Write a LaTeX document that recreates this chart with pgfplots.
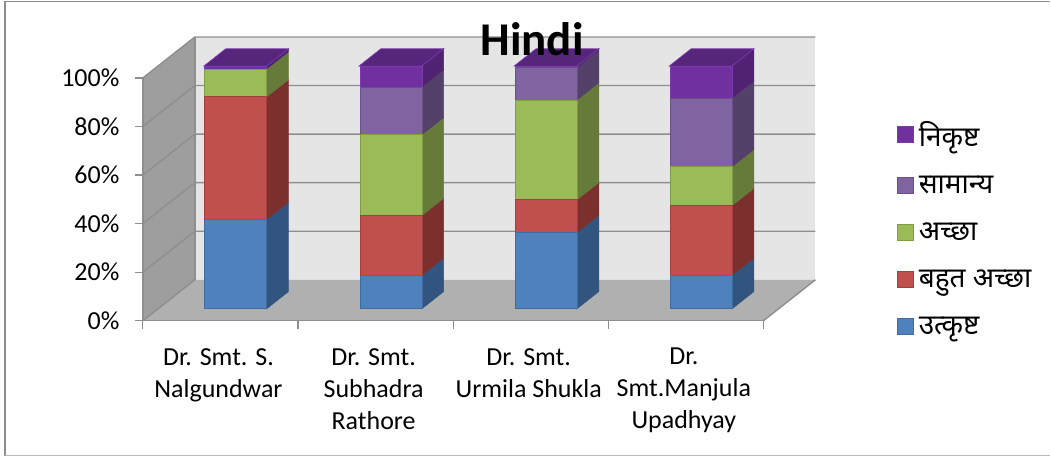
\documentclass[border=0pt]{standalone}
\usepackage{fontspec}
\usepackage{pgfplots}
\pgfplotsset{compat=1.18}
\setmainfont{Carlito}
\newfontfamily\dev[Script=Devanagari]{Noto Sans}
\definecolor{cb}{HTML}{4F81BD}\definecolor{cbe}{HTML}{3F6CA3}\definecolor{cbs}{HTML}{31557F}
\definecolor{cr}{HTML}{C0504D}\definecolor{cre}{HTML}{A33F3C}\definecolor{crs}{HTML}{7C302E}
\definecolor{cg}{HTML}{9BBB59}\definecolor{cge}{HTML}{7F9C47}\definecolor{cgs}{HTML}{667A3A}
\definecolor{cv}{HTML}{8064A2}\definecolor{cve}{HTML}{6A5088}\definecolor{cvs}{HTML}{53416A}
\definecolor{cp}{HTML}{7030A0}\definecolor{cpe}{HTML}{7A3AAC}\definecolor{cps}{HTML}{4F2272}\definecolor{cpt}{HTML}{56257C}
\definecolor{gl}{HTML}{8E8E8E}
% side face: x, z from, z to, colour
\newcommand\bside[4]{\addplot3[fill=#4,draw=#4,line width=0.5pt] coordinates {(#1,0.288,#2) (#1,0.712,#2) (#1,0.712,#3) (#1,0.288,#3)} --cycle;}
% top face: x left, x right
\newcommand\btop[2]{\addplot3[fill=cpt,draw=cpe,line width=0.7pt] coordinates {(#1,0.288,100) (#2,0.288,100) (#2,0.712,100) (#1,0.712,100)} --cycle;}
\newcommand\gridz[1]{\addplot3[draw=gl,line width=1.4pt] coordinates {(0,0,#1) (0,1,#1) (4,1,#1)};}
\begin{document}
\begin{tikzpicture}[x=1pt,y=1pt]
\path[fill=white] (0,0) rectangle (1051,457);
\draw[draw=black!45,line width=1.6pt] (5,1) -- (5,455.5) -- (1051,455.5);
\draw[draw=black!27,line width=1.4pt] (5,1) -- (1051,1);
% walls, floor, gridlines, bar sides and tops
\begin{axis}[at={(143pt,136pt)},anchor=origin,hide axis,clip=false,
  x={(155.25pt,0pt)},y={(52pt,41pt)},z={(0pt,2.43pt)},
  xmin=0,xmax=4,ymin=0,ymax=1,zmin=0,zmax=100,no markers]
\addplot3[fill=black!10,draw=none] coordinates {(0,1,0) (4,1,0) (4,1,100) (0,1,100)} --cycle;
\addplot3[fill=black!38,draw=none] coordinates {(0,0,0) (0,1,0) (0,1,100) (0,0,100)} --cycle;
\addplot3[fill=black!31,draw=none] coordinates {(0,0,0) (4,0,0) (4,1,0) (0,1,0)} --cycle;
\gridz{20}\gridz{40}\gridz{60}\gridz{80}\gridz{100}
\addplot3[draw=gl,line width=1.4pt] coordinates {(0,1,0) (0,1,100)};
\addplot3[draw=gl,line width=1.4pt] coordinates {(4,0,0) (4,1,0)};
\addplot3[draw=gl,line width=1.4pt] coordinates {(0,0,0) (0,1,0)};
% bar 1
\bside{0.7}{0}{36.8}{cbs}\bside{0.7}{36.8}{87.3}{crs}\bside{0.7}{87.3}{98.8}{cgs}\bside{0.7}{98.8}{100}{cps}\btop{0.296}{0.7}
% bar 2
\bside{1.7}{0}{13.8}{cbs}\bside{1.7}{13.8}{38.4}{crs}\bside{1.7}{38.4}{71.7}{cgs}\bside{1.7}{71.7}{91.4}{cvs}\bside{1.7}{91.4}{100}{cps}\btop{1.296}{1.7}
% bar 3
\bside{2.7}{0}{31.4}{cbs}\bside{2.7}{31.4}{44.9}{crs}\bside{2.7}{44.9}{86}{cgs}\bside{2.7}{86}{99.5}{cvs}\bside{2.7}{99.5}{100}{cps}\btop{2.296}{2.7}
% bar 4
\bside{3.7}{0}{13.8}{cbs}\bside{3.7}{13.8}{42.5}{crs}\bside{3.7}{42.5}{58.5}{cgs}\bside{3.7}{58.5}{86.8}{cvs}\bside{3.7}{86.8}{100}{cps}\btop{3.296}{3.7}
\end{axis}
% front faces of the bars
\begin{axis}[at={(158.5pt,147.8pt)},anchor=south west,hide axis,clip=false,
  x=155.25pt,y=2.43pt,xmin=0,xmax=4,ymin=0,ymax=100,
  ybar stacked,bar width=62pt,
  legend image code/.code={\draw[#1,line width=1pt] (2pt,-8pt) rectangle (18pt,8pt);},
  reverse legend,
  legend style={at={(axis cs:4.76,78)},anchor=north west,draw=none,fill=none,
    font=\dev\fontsize{28}{30}\selectfont,row sep=24pt,inner sep=0pt,outer sep=0pt,
    /tikz/every odd column/.append style={column sep=3pt},
    cells={anchor=west}}]
\addplot[fill=cb,draw=cbe,line width=1pt] coordinates {(0.5,36.8) (1.5,13.8) (2.5,31.4) (3.5,13.8)};
\addlegendentry{उत्कृष्ट}
\addplot[fill=cr,draw=cre,line width=1pt] coordinates {(0.5,50.5) (1.5,24.6) (2.5,13.5) (3.5,28.7)};
\addlegendentry{बहुत अच्छा}
\addplot[fill=cg,draw=cge,line width=1pt] coordinates {(0.5,11.5) (1.5,33.3) (2.5,41.1) (3.5,16.0)};
\addlegendentry{अच्छा}
\addplot[fill=cv,draw=cve,line width=1pt] coordinates {(0.5,0) (1.5,19.7) (2.5,13.5) (3.5,28.3)};
\addlegendentry{सामान्य}
\addplot[fill=cp,draw=cpe,line width=1pt] coordinates {(0.5,1.2) (1.5,8.6) (2.5,0.5) (3.5,13.2)};
\addlegendentry{निकृष्ट}
\end{axis}
% front axes: ticks, labels, title
\begin{axis}[at={(143pt,136pt)},anchor=south west,clip=false,
  x=155.25pt,y=2.43pt,xmin=0,xmax=4,ymin=0,ymax=100,
  axis lines=left,axis line style={draw=gl,line width=1.4pt,-},
  every tick/.style={draw=gl,line width=1.2pt},
  tick align=outside,major tick length=8pt,
  xtick={0,1,2,3,4},x tick label as interval,
  xticklabels={{Dr. Smt. S.\\Nalgundwar},{Dr. Smt.\\Subhadra\\Rathore},{Dr. Smt.\\Urmila Shukla},{Dr.\\Smt.Manjula\\Upadhyay}},
  xticklabel style={align=center,font=\fontsize{26}{32}\selectfont,yshift=-16pt,xshift=-2pt},
  ytick={0,20,40,60,80,100},yticklabels={0\%,20\%,40\%,60\%,80\%,100\%},
  yticklabel style={font=\fontsize{26}{30}\selectfont,xshift=-12pt},
  title={Hindi},
  title style={at={(0.627,1.135)},anchor=center,font=\bfseries\fontsize{47}{50}\selectfont}]
\end{axis}
\end{tikzpicture}
\end{document}
